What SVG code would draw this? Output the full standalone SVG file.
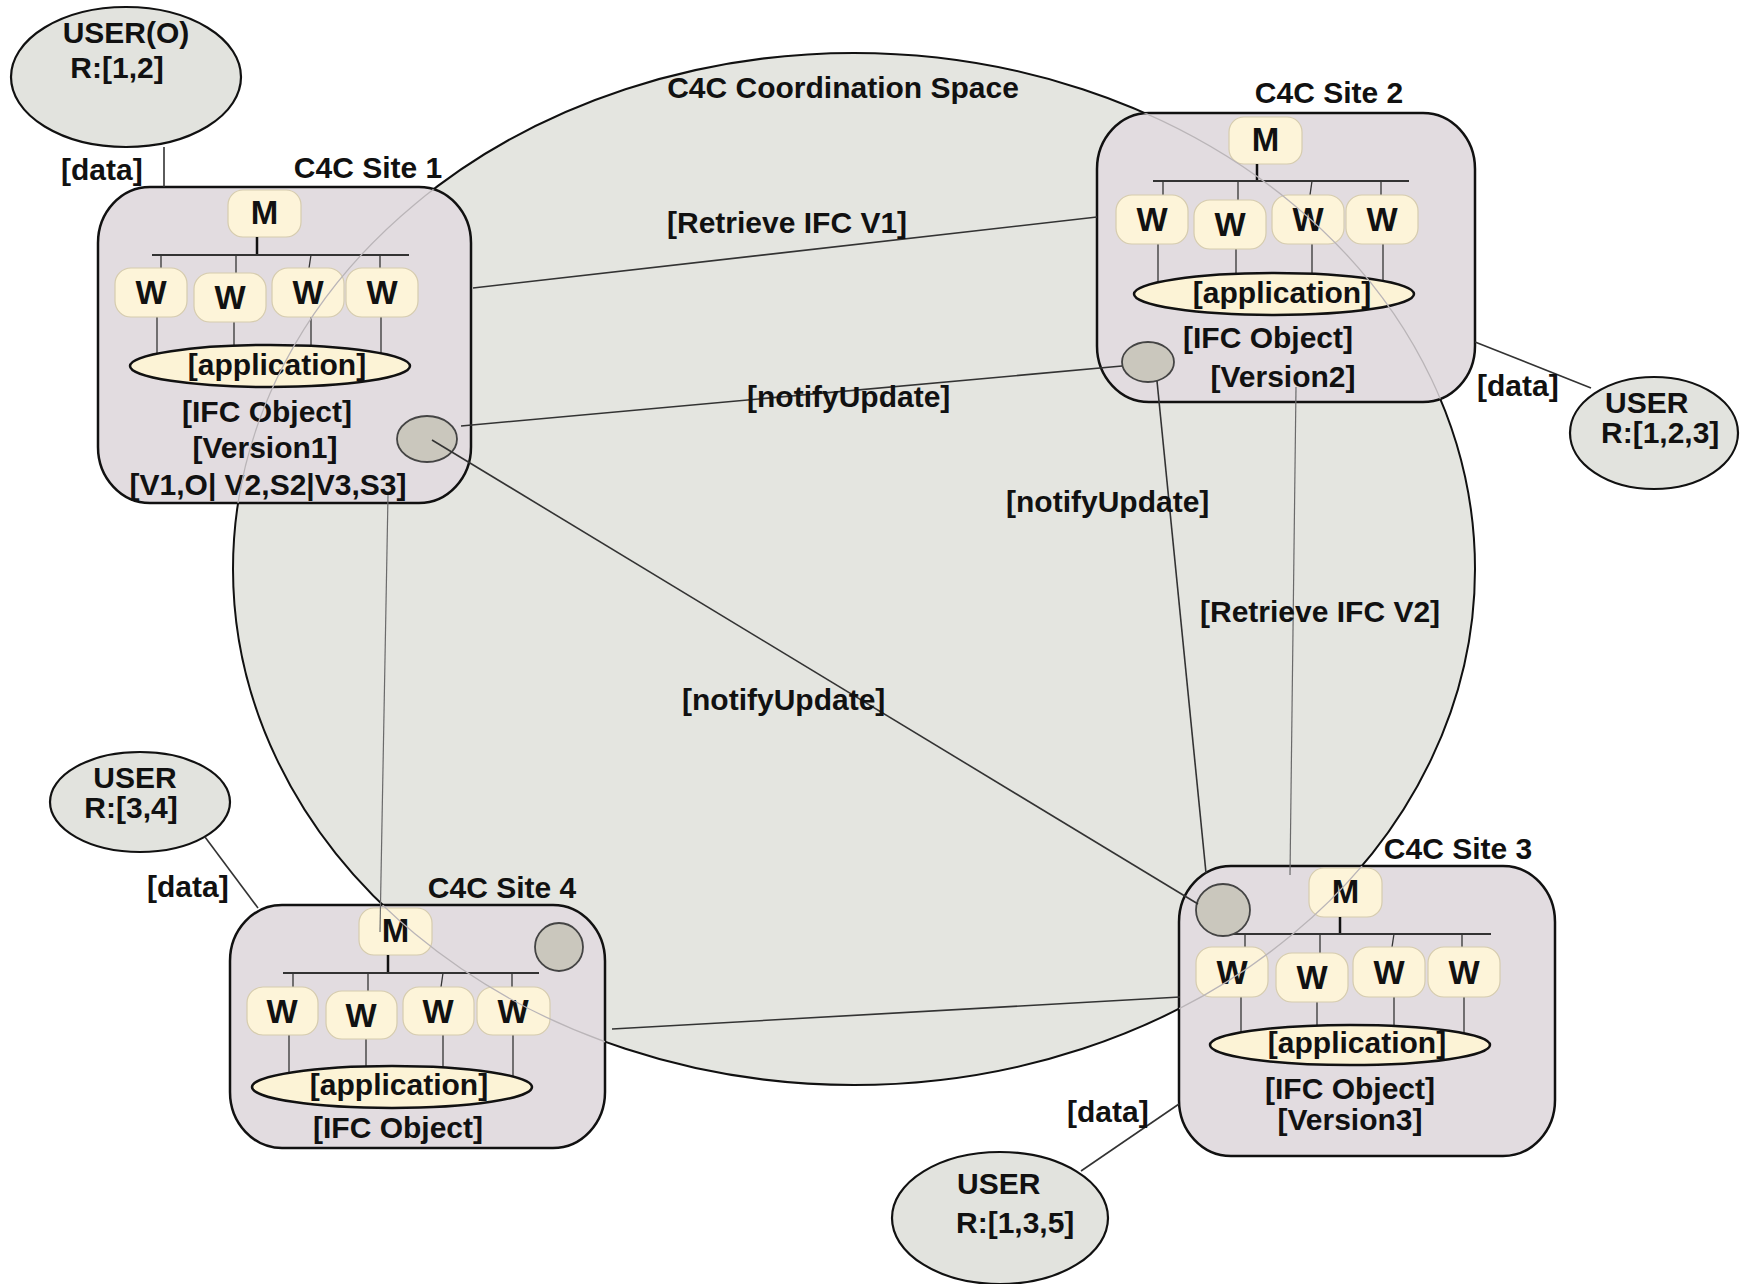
<svg xmlns="http://www.w3.org/2000/svg" width="1742" height="1284" viewBox="0 0 1742 1284">
<style>
  text { font-family: "Liberation Sans", Arial, sans-serif; font-weight: bold; font-size: 30px; fill: #111; }
  .mid { text-anchor: middle; }
  .mw-t { font-size: 33px; text-anchor: middle; }
  .space { fill: #e4e5e0; stroke: #111; stroke-width: 2; }
  .faint { fill: none; stroke: #bab5b8; stroke-width: 1.3; }
  .site { fill: #e2dce0; stroke: #111; stroke-width: 2.5; }
  .mw { fill: #fdf4d9; stroke: #d6ccae; stroke-width: 1.2; }
  .app { fill: #fcf3d6; stroke: #111; stroke-width: 2.5; }
  .stem { stroke: #111; stroke-width: 2.5; }
  .bus { stroke: #333; stroke-width: 2; }
  .tick { stroke: #333; stroke-width: 1.3; }
  .dot { fill: #cac7bd; stroke: #444; stroke-width: 1.8; }
  .user { fill: #e2e3de; stroke: #111; stroke-width: 2.2; }
  .conn { stroke: #333; stroke-width: 1.6; fill: none; }
  .thin { stroke: #6a6a6a; stroke-width: 1.2; fill: none; }
</style>
<defs>
  <clipPath id="siteClip">
    <rect x="98" y="187" width="373" height="316" rx="52" ry="56"/>
    <rect x="1097" y="113" width="378" height="289" rx="52" ry="56"/>
    <rect x="1179" y="866" width="376" height="290" rx="52" ry="56"/>
    <rect x="230" y="905" width="375" height="243" rx="52" ry="56"/>
  </clipPath>
</defs>
<rect x="0" y="0" width="1742" height="1284" fill="#ffffff"/>

<g id="coordination-space">
  <ellipse class="space" cx="854" cy="569" rx="621" ry="516"/>
  <text class="mid" x="843" y="98">C4C Coordination Space</text>
</g>

<g id="site-1" transform="translate(98,187)">
  <rect class="site" x="0" y="0" width="373" height="316" rx="52" ry="56"/>
  <rect class="mw" x="130" y="3" width="73" height="47" rx="15"/>
  <line class="stem" x1="159" y1="50" x2="159" y2="68"/>
  <line class="bus" x1="54" y1="68" x2="311" y2="68"/>
  <line class="tick" x1="63" y1="68" x2="63" y2="81"/>
  <line class="tick" x1="138" y1="68" x2="138" y2="86"/>
  <line class="tick" x1="213" y1="68" x2="211" y2="81"/>
  <line class="tick" x1="282" y1="68" x2="282" y2="81"/>
  <line class="tick" x1="59" y1="130" x2="59" y2="172"/>
  <line class="tick" x1="136" y1="135" x2="136" y2="172"/>
  <line class="tick" x1="213" y1="130" x2="213" y2="172"/>
  <line class="tick" x1="283" y1="130" x2="283" y2="172"/>
  <rect class="mw" x="17" y="81" width="72" height="49" rx="16"/>
  <rect class="mw" x="96" y="86" width="72" height="49" rx="16"/>
  <rect class="mw" x="174" y="81" width="72" height="49" rx="16"/>
  <rect class="mw" x="248" y="81" width="72" height="49" rx="16"/>
  <ellipse class="app" cx="172" cy="179" rx="140" ry="21"/>
  <ellipse class="dot" cx="329" cy="252" rx="30" ry="23"/>
  <text class="mw-t" x="166.5" y="37">M</text>
  <text class="mw-t" x="53" y="117">W</text>
  <text class="mw-t" x="132" y="122">W</text>
  <text class="mw-t" x="210" y="117">W</text>
  <text class="mw-t" x="284" y="117">W</text>
  <text class="mid" x="179" y="188">[application]</text>
  <text class="mid" x="169" y="235">[IFC Object]</text>
  <text class="mid" x="167" y="271">[Version1]</text>
  <text class="mid" x="170" y="308">[V1,O| V2,S2|V3,S3]</text>
  <text class="mid" x="270" y="-9">C4C Site 1</text>
</g>

<g id="site-2" transform="translate(1097,113)">
  <rect class="site" x="0" y="0" width="378" height="289" rx="52" ry="56"/>
  <rect class="mw" x="132" y="4" width="73" height="47" rx="15"/>
  <line class="stem" x1="160" y1="51" x2="160" y2="68"/>
  <line class="bus" x1="56" y1="68" x2="312" y2="68"/>
  <line class="tick" x1="66" y1="68" x2="66" y2="82"/>
  <line class="tick" x1="141" y1="68" x2="141" y2="87"/>
  <line class="tick" x1="215" y1="68" x2="213" y2="82"/>
  <line class="tick" x1="284" y1="68" x2="284" y2="82"/>
  <line class="tick" x1="61" y1="131" x2="61" y2="172"/>
  <line class="tick" x1="139" y1="136" x2="139" y2="172"/>
  <line class="tick" x1="215" y1="131" x2="215" y2="172"/>
  <line class="tick" x1="286" y1="131" x2="286" y2="172"/>
  <rect class="mw" x="19" y="82" width="72" height="49" rx="16"/>
  <rect class="mw" x="97" y="87" width="72" height="49" rx="16"/>
  <rect class="mw" x="175" y="82" width="72" height="49" rx="16"/>
  <rect class="mw" x="249" y="82" width="72" height="49" rx="16"/>
  <ellipse class="app" cx="177" cy="181" rx="140" ry="21"/>
  <ellipse class="dot" cx="51" cy="249" rx="26" ry="20"/>
  <text class="mw-t" x="168.5" y="38">M</text>
  <text class="mw-t" x="55" y="118">W</text>
  <text class="mw-t" x="133" y="123">W</text>
  <text class="mw-t" x="211" y="118">W</text>
  <text class="mw-t" x="285" y="118">W</text>
  <text class="mid" x="185" y="190">[application]</text>
  <text class="mid" x="171" y="235">[IFC Object]</text>
  <text class="mid" x="186" y="274">[Version2]</text>
  <text class="mid" x="232" y="-10">C4C Site 2</text>
</g>

<g id="site-3" transform="translate(1179,866)">
  <rect class="site" x="0" y="0" width="376" height="290" rx="52" ry="56"/>
  <rect class="mw" x="130" y="2" width="73" height="49" rx="15"/>
  <line class="stem" x1="161" y1="51" x2="161" y2="68"/>
  <line class="bus" x1="54" y1="68" x2="312" y2="68"/>
  <line class="tick" x1="66" y1="68" x2="66" y2="81"/>
  <line class="tick" x1="141" y1="68" x2="141" y2="87"/>
  <line class="tick" x1="215" y1="68" x2="213" y2="81"/>
  <line class="tick" x1="283" y1="68" x2="283" y2="81"/>
  <line class="tick" x1="62" y1="130" x2="62" y2="172"/>
  <line class="tick" x1="138" y1="135" x2="138" y2="172"/>
  <line class="tick" x1="215" y1="130" x2="215" y2="172"/>
  <line class="tick" x1="285" y1="130" x2="285" y2="172"/>
  <rect class="mw" x="17" y="81" width="72" height="50" rx="16"/>
  <rect class="mw" x="97" y="87" width="72" height="49" rx="16"/>
  <rect class="mw" x="174" y="81" width="72" height="50" rx="16"/>
  <rect class="mw" x="249" y="81" width="72" height="50" rx="16"/>
  <ellipse class="app" cx="171" cy="179" rx="140" ry="20"/>
  <ellipse class="dot" cx="44" cy="44" rx="27" ry="26"/>
  <text class="mw-t" x="166.5" y="37">M</text>
  <text class="mw-t" x="53" y="118">W</text>
  <text class="mw-t" x="133" y="123">W</text>
  <text class="mw-t" x="210" y="118">W</text>
  <text class="mw-t" x="285" y="118">W</text>
  <text class="mid" x="178" y="187">[application]</text>
  <text class="mid" x="171" y="233">[IFC Object]</text>
  <text class="mid" x="171" y="264">[Version3]</text>
  <text class="mid" x="279" y="-7">C4C Site 3</text>
</g>

<g id="site-4" transform="translate(230,905)">
  <rect class="site" x="0" y="0" width="375" height="243" rx="52" ry="56"/>
  <rect class="mw" x="129" y="3" width="73" height="47" rx="15"/>
  <line class="stem" x1="158" y1="50" x2="158" y2="68"/>
  <line class="bus" x1="53" y1="68" x2="309" y2="68"/>
  <line class="tick" x1="63" y1="68" x2="63" y2="82"/>
  <line class="tick" x1="138" y1="68" x2="138" y2="86"/>
  <line class="tick" x1="213" y1="68" x2="211" y2="82"/>
  <line class="tick" x1="282" y1="68" x2="282" y2="82"/>
  <line class="tick" x1="59" y1="130" x2="59" y2="172"/>
  <line class="tick" x1="136" y1="134" x2="136" y2="172"/>
  <line class="tick" x1="213" y1="130" x2="213" y2="172"/>
  <line class="tick" x1="283" y1="130" x2="283" y2="172"/>
  <rect class="mw" x="17" y="82" width="71" height="48" rx="16"/>
  <rect class="mw" x="96" y="86" width="71" height="48" rx="16"/>
  <rect class="mw" x="173" y="82" width="71" height="48" rx="16"/>
  <rect class="mw" x="247" y="82" width="73" height="48" rx="16"/>
  <ellipse class="app" cx="162" cy="182" rx="140" ry="21"/>
  <circle class="dot" cx="329" cy="42" r="24"/>
  <text class="mw-t" x="165.5" y="37">M</text>
  <text class="mw-t" x="52" y="118">W</text>
  <text class="mw-t" x="131" y="122">W</text>
  <text class="mw-t" x="208" y="118">W</text>
  <text class="mw-t" x="283" y="118">W</text>
  <text class="mid" x="169" y="190">[application]</text>
  <text class="mid" x="168" y="233">[IFC Object]</text>
  <text class="mid" x="272" y="-7">C4C Site 4</text>
</g>

<g id="space-outline-through-sites">
  <ellipse class="faint" cx="854" cy="569" rx="621" ry="516" clip-path="url(#siteClip)"/>
</g>

<g id="user-o">
  <ellipse class="user" cx="126" cy="77" rx="115" ry="70"/>
  <text class="mid" x="126" y="43">USER(O)</text>
  <text class="mid" x="117" y="78">R:[1,2]</text>
</g>

<g id="user-123">
  <ellipse class="user" cx="1654" cy="433" rx="84" ry="56"/>
  <text x="1605" y="413">USER</text>
  <text x="1601" y="443">R:[1,2,3]</text>
</g>

<g id="user-34">
  <ellipse class="user" cx="140" cy="802" rx="90" ry="50"/>
  <text class="mid" x="135" y="788">USER</text>
  <text class="mid" x="131" y="818">R:[3,4]</text>
</g>

<g id="user-135">
  <ellipse class="user" cx="1000" cy="1218" rx="108" ry="66"/>
  <text x="957" y="1194">USER</text>
  <text x="956" y="1233">R:[1,3,5]</text>
</g>

<g id="connectors">
  <line class="conn" x1="164" y1="147" x2="164" y2="187"/>
  <line class="conn" x1="473" y1="288" x2="1097" y2="217"/>
  <line class="conn" x1="461" y1="426" x2="1122" y2="366"/>
  <line class="conn" x1="432" y1="440" x2="1198" y2="904"/>
  <line class="conn" x1="1157" y1="381" x2="1206" y2="873"/>
  <line class="thin" x1="1296" y1="387" x2="1290" y2="875"/>
  <line class="thin" x1="388" y1="495" x2="380" y2="932"/>
  <line class="conn" x1="612" y1="1029" x2="1180" y2="997"/>
  <line class="conn" x1="1475" y1="342" x2="1591" y2="388"/>
  <line class="conn" x1="205" y1="837" x2="258" y2="908"/>
  <line class="conn" x1="1179" y1="1104" x2="1081" y2="1171"/>
  <text x="61" y="180">[data]</text>
  <text x="1477" y="396">[data]</text>
  <text x="147" y="897">[data]</text>
  <text x="1067" y="1122">[data]</text>
  <text x="667" y="233">[Retrieve IFC V1]</text>
  <text x="747" y="407">[notifyUpdate]</text>
  <text x="1006" y="512">[notifyUpdate]</text>
  <text x="682" y="710">[notifyUpdate]</text>
  <text x="1200" y="622">[Retrieve IFC V2]</text>
</g>
</svg>
